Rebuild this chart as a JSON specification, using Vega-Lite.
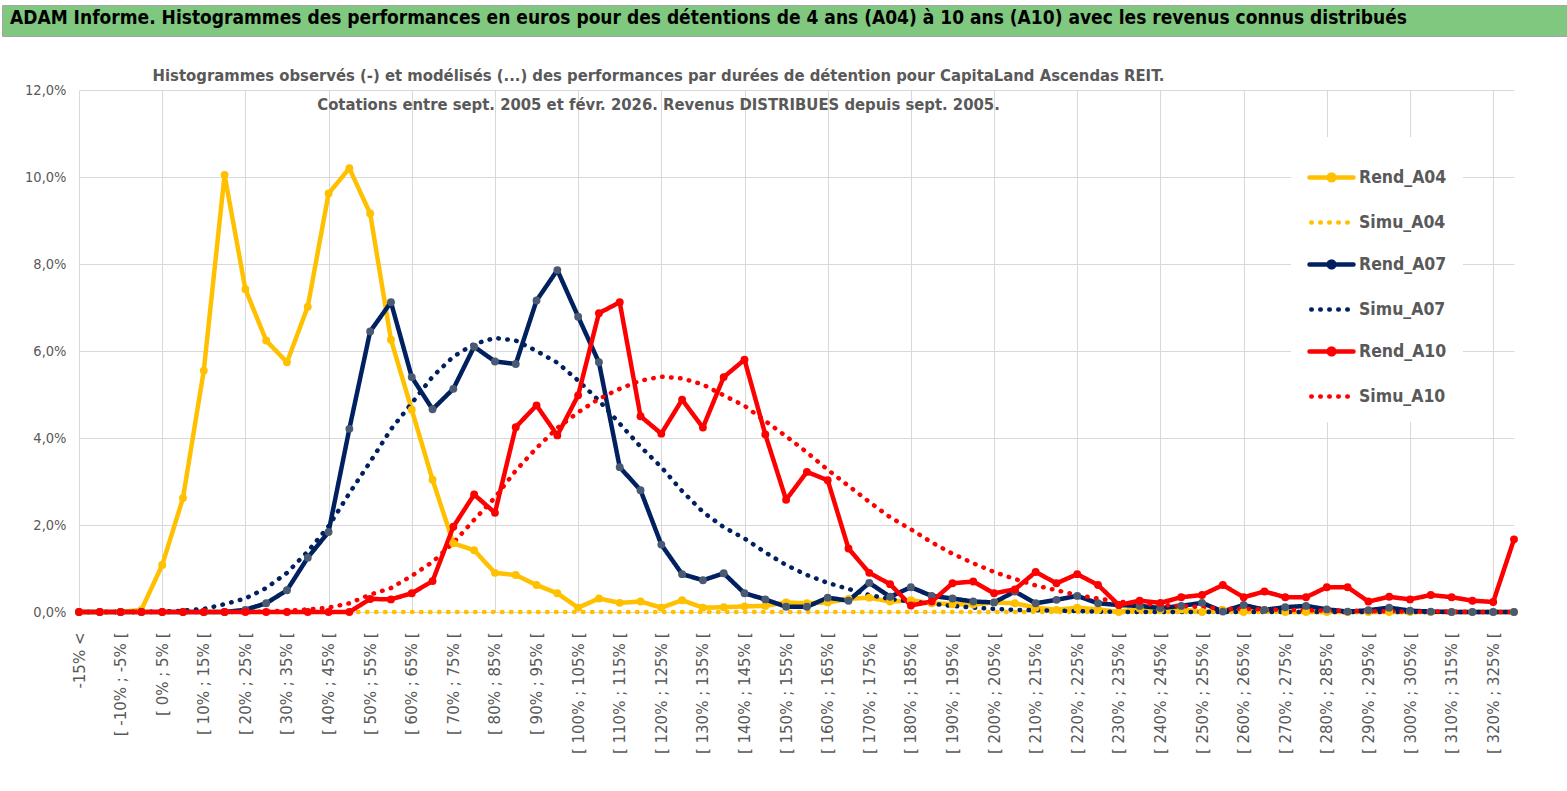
{
  "$schema": "https://vega.github.io/schema/vega-lite/v6.json",
  "autosize": {"type": "none"},
  "padding": {"left": 79, "top": 90, "right": 53, "bottom": 179},
  "width": 1435,
  "height": 522,
  "background": "white",
  "data": {
    "values": [
      {"c": "-15% <", "Rend_A04": 0, "Simu_A04": 0, "Rend_A07": 0, "Simu_A07": 0, "Rend_A10": 0, "Simu_A10": 0},
      {"c": "[ -15% ; -10% [", "Rend_A04": 0, "Simu_A04": 0, "Rend_A07": 0, "Simu_A07": 0, "Rend_A10": 0, "Simu_A10": 0},
      {"c": "[ -10% ; -5% [", "Rend_A04": 0, "Simu_A04": 0, "Rend_A07": 0, "Simu_A07": 0, "Rend_A10": 0, "Simu_A10": 0},
      {"c": "[ -5% ; 0% [", "Rend_A04": 0.05, "Simu_A04": 0, "Rend_A07": 0, "Simu_A07": 0, "Rend_A10": 0, "Simu_A10": 0},
      {"c": "[ 0% ; 5% [", "Rend_A04": 1.08, "Simu_A04": 0, "Rend_A07": 0, "Simu_A07": 0.01, "Rend_A10": 0, "Simu_A10": 0},
      {"c": "[ 5% ; 10% [", "Rend_A04": 2.62, "Simu_A04": 0, "Rend_A07": 0, "Simu_A07": 0.03, "Rend_A10": 0, "Simu_A10": 0},
      {"c": "[ 10% ; 15% [", "Rend_A04": 5.55, "Simu_A04": 0, "Rend_A07": 0, "Simu_A07": 0.07, "Rend_A10": 0, "Simu_A10": 0},
      {"c": "[ 15% ; 20% [", "Rend_A04": 10.05, "Simu_A04": 0, "Rend_A07": 0, "Simu_A07": 0.18, "Rend_A10": 0, "Simu_A10": 0},
      {"c": "[ 20% ; 25% [", "Rend_A04": 7.42, "Simu_A04": 0, "Rend_A07": 0.05, "Simu_A07": 0.31, "Rend_A10": 0, "Simu_A10": 0},
      {"c": "[ 25% ; 30% [", "Rend_A04": 6.24, "Simu_A04": 0, "Rend_A07": 0.2, "Simu_A07": 0.55, "Rend_A10": 0, "Simu_A10": 0.01},
      {"c": "[ 30% ; 35% [", "Rend_A04": 5.74, "Simu_A04": 0, "Rend_A07": 0.5, "Simu_A07": 0.9, "Rend_A10": 0, "Simu_A10": 0.03},
      {"c": "[ 35% ; 40% [", "Rend_A04": 7.02, "Simu_A04": 0, "Rend_A07": 1.25, "Simu_A07": 1.39, "Rend_A10": 0, "Simu_A10": 0.06},
      {"c": "[ 40% ; 45% [", "Rend_A04": 9.62, "Simu_A04": 0, "Rend_A07": 1.84, "Simu_A07": 1.97, "Rend_A10": 0, "Simu_A10": 0.1},
      {"c": "[ 45% ; 50% [", "Rend_A04": 10.2, "Simu_A04": 0, "Rend_A07": 4.21, "Simu_A07": 2.73, "Rend_A10": 0, "Simu_A10": 0.2},
      {"c": "[ 50% ; 55% [", "Rend_A04": 9.16, "Simu_A04": 0, "Rend_A07": 6.45, "Simu_A07": 3.45, "Rend_A10": 0.3, "Simu_A10": 0.4},
      {"c": "[ 55% ; 60% [", "Rend_A04": 6.26, "Simu_A04": 0, "Rend_A07": 7.12, "Simu_A07": 4.2, "Rend_A10": 0.29, "Simu_A10": 0.55},
      {"c": "[ 60% ; 65% [", "Rend_A04": 4.65, "Simu_A04": 0, "Rend_A07": 5.4, "Simu_A07": 4.8, "Rend_A10": 0.43, "Simu_A10": 0.83},
      {"c": "[ 65% ; 70% [", "Rend_A04": 3.04, "Simu_A04": 0, "Rend_A07": 4.66, "Simu_A07": 5.41, "Rend_A10": 0.71, "Simu_A10": 1.15},
      {"c": "[ 70% ; 75% [", "Rend_A04": 1.58, "Simu_A04": 0, "Rend_A07": 5.13, "Simu_A07": 5.87, "Rend_A10": 1.96, "Simu_A10": 1.59},
      {"c": "[ 75% ; 80% [", "Rend_A04": 1.42, "Simu_A04": 0, "Rend_A07": 6.1, "Simu_A07": 6.16, "Rend_A10": 2.7, "Simu_A10": 2.12},
      {"c": "[ 80% ; 85% [", "Rend_A04": 0.9, "Simu_A04": 0, "Rend_A07": 5.76, "Simu_A07": 6.3, "Rend_A10": 2.28, "Simu_A10": 2.63},
      {"c": "[ 85% ; 90% [", "Rend_A04": 0.85, "Simu_A04": 0, "Rend_A07": 5.7, "Simu_A07": 6.24, "Rend_A10": 4.25, "Simu_A10": 3.25},
      {"c": "[ 90% ; 95% [", "Rend_A04": 0.62, "Simu_A04": 0, "Rend_A07": 7.16, "Simu_A07": 6.0, "Rend_A10": 4.75, "Simu_A10": 3.77},
      {"c": "[ 95% ; 100% [", "Rend_A04": 0.43, "Simu_A04": 0, "Rend_A07": 7.86, "Simu_A07": 5.73, "Rend_A10": 4.06, "Simu_A10": 4.23},
      {"c": "[ 100% ; 105% [", "Rend_A04": 0.1, "Simu_A04": 0, "Rend_A07": 6.79, "Simu_A07": 5.32, "Rend_A10": 4.98, "Simu_A10": 4.59},
      {"c": "[ 105% ; 110% [", "Rend_A04": 0.31, "Simu_A04": 0, "Rend_A07": 5.74, "Simu_A07": 4.86, "Rend_A10": 6.87, "Simu_A10": 4.9},
      {"c": "[ 110% ; 115% [", "Rend_A04": 0.21, "Simu_A04": 0, "Rend_A07": 3.33, "Simu_A07": 4.33, "Rend_A10": 7.12, "Simu_A10": 5.13},
      {"c": "[ 115% ; 120% [", "Rend_A04": 0.24, "Simu_A04": 0, "Rend_A07": 2.8, "Simu_A07": 3.8, "Rend_A10": 4.5, "Simu_A10": 5.32},
      {"c": "[ 120% ; 125% [", "Rend_A04": 0.1, "Simu_A04": 0, "Rend_A07": 1.55, "Simu_A07": 3.33, "Rend_A10": 4.1, "Simu_A10": 5.41},
      {"c": "[ 125% ; 130% [", "Rend_A04": 0.27, "Simu_A04": 0, "Rend_A07": 0.87, "Simu_A07": 2.78, "Rend_A10": 4.88, "Simu_A10": 5.37},
      {"c": "[ 130% ; 135% [", "Rend_A04": 0.1, "Simu_A04": 0, "Rend_A07": 0.73, "Simu_A07": 2.3, "Rend_A10": 4.24, "Simu_A10": 5.23},
      {"c": "[ 135% ; 140% [", "Rend_A04": 0.11, "Simu_A04": 0, "Rend_A07": 0.89, "Simu_A07": 1.95, "Rend_A10": 5.4, "Simu_A10": 4.98},
      {"c": "[ 140% ; 145% [", "Rend_A04": 0.13, "Simu_A04": 0, "Rend_A07": 0.43, "Simu_A07": 1.69, "Rend_A10": 5.8, "Simu_A10": 4.74},
      {"c": "[ 145% ; 150% [", "Rend_A04": 0.14, "Simu_A04": 0, "Rend_A07": 0.29, "Simu_A07": 1.37, "Rend_A10": 4.08, "Simu_A10": 4.39},
      {"c": "[ 150% ; 155% [", "Rend_A04": 0.22, "Simu_A04": 0, "Rend_A07": 0.12, "Simu_A07": 1.08, "Rend_A10": 2.58, "Simu_A10": 4.04},
      {"c": "[ 155% ; 160% [", "Rend_A04": 0.2, "Simu_A04": 0, "Rend_A07": 0.12, "Simu_A07": 0.85, "Rend_A10": 3.22, "Simu_A10": 3.67},
      {"c": "[ 160% ; 165% [", "Rend_A04": 0.22, "Simu_A04": 0, "Rend_A07": 0.33, "Simu_A07": 0.67, "Rend_A10": 3.03, "Simu_A10": 3.27},
      {"c": "[ 165% ; 170% [", "Rend_A04": 0.3, "Simu_A04": 0, "Rend_A07": 0.26, "Simu_A07": 0.53, "Rend_A10": 1.46, "Simu_A10": 2.9},
      {"c": "[ 170% ; 175% [", "Rend_A04": 0.33, "Simu_A04": 0, "Rend_A07": 0.67, "Simu_A07": 0.39, "Rend_A10": 0.9, "Simu_A10": 2.53},
      {"c": "[ 175% ; 180% [", "Rend_A04": 0.24, "Simu_A04": 0, "Rend_A07": 0.35, "Simu_A07": 0.3, "Rend_A10": 0.64, "Simu_A10": 2.18},
      {"c": "[ 180% ; 185% [", "Rend_A04": 0.27, "Simu_A04": 0, "Rend_A07": 0.57, "Simu_A07": 0.24, "Rend_A10": 0.15, "Simu_A10": 1.9},
      {"c": "[ 185% ; 190% [", "Rend_A04": 0.2, "Simu_A04": 0, "Rend_A07": 0.37, "Simu_A07": 0.19, "Rend_A10": 0.24, "Simu_A10": 1.6},
      {"c": "[ 190% ; 195% [", "Rend_A04": 0.18, "Simu_A04": 0, "Rend_A07": 0.31, "Simu_A07": 0.14, "Rend_A10": 0.66, "Simu_A10": 1.34},
      {"c": "[ 195% ; 200% [", "Rend_A04": 0.17, "Simu_A04": 0, "Rend_A07": 0.24, "Simu_A07": 0.1, "Rend_A10": 0.7, "Simu_A10": 1.12},
      {"c": "[ 200% ; 205% [", "Rend_A04": 0.22, "Simu_A04": 0, "Rend_A07": 0.22, "Simu_A07": 0.07, "Rend_A10": 0.43, "Simu_A10": 0.92},
      {"c": "[ 205% ; 210% [", "Rend_A04": 0.2, "Simu_A04": 0, "Rend_A07": 0.47, "Simu_A07": 0.05, "Rend_A10": 0.52, "Simu_A10": 0.76},
      {"c": "[ 210% ; 215% [", "Rend_A04": 0.1, "Simu_A04": 0, "Rend_A07": 0.2, "Simu_A07": 0.04, "Rend_A10": 0.92, "Simu_A10": 0.61},
      {"c": "[ 215% ; 220% [", "Rend_A04": 0.05, "Simu_A04": 0, "Rend_A07": 0.28, "Simu_A07": 0.03, "Rend_A10": 0.66, "Simu_A10": 0.5},
      {"c": "[ 220% ; 225% [", "Rend_A04": 0.1, "Simu_A04": 0, "Rend_A07": 0.37, "Simu_A07": 0.02, "Rend_A10": 0.87, "Simu_A10": 0.39},
      {"c": "[ 225% ; 230% [", "Rend_A04": 0.06, "Simu_A04": 0, "Rend_A07": 0.2, "Simu_A07": 0.01, "Rend_A10": 0.62, "Simu_A10": 0.31},
      {"c": "[ 230% ; 235% [", "Rend_A04": 0, "Simu_A04": 0, "Rend_A07": 0.16, "Simu_A07": 0, "Rend_A10": 0.16, "Simu_A10": 0.24},
      {"c": "[ 235% ; 240% [", "Rend_A04": 0.08, "Simu_A04": 0, "Rend_A07": 0.14, "Simu_A07": 0, "Rend_A10": 0.26, "Simu_A10": 0.2},
      {"c": "[ 240% ; 245% [", "Rend_A04": 0.05, "Simu_A04": 0, "Rend_A07": 0.09, "Simu_A07": 0, "Rend_A10": 0.21, "Simu_A10": 0.16},
      {"c": "[ 245% ; 250% [", "Rend_A04": 0.06, "Simu_A04": 0, "Rend_A07": 0.14, "Simu_A07": 0, "Rend_A10": 0.34, "Simu_A10": 0.14},
      {"c": "[ 250% ; 255% [", "Rend_A04": 0, "Simu_A04": 0, "Rend_A07": 0.21, "Simu_A07": 0, "Rend_A10": 0.39, "Simu_A10": 0.11},
      {"c": "[ 255% ; 260% [", "Rend_A04": 0.05, "Simu_A04": 0, "Rend_A07": 0.01, "Simu_A07": 0, "Rend_A10": 0.62, "Simu_A10": 0.08},
      {"c": "[ 260% ; 265% [", "Rend_A04": 0, "Simu_A04": 0, "Rend_A07": 0.16, "Simu_A07": 0, "Rend_A10": 0.34, "Simu_A10": 0.07},
      {"c": "[ 265% ; 270% [", "Rend_A04": 0.05, "Simu_A04": 0, "Rend_A07": 0.05, "Simu_A07": 0, "Rend_A10": 0.47, "Simu_A10": 0.06},
      {"c": "[ 270% ; 275% [", "Rend_A04": 0, "Simu_A04": 0, "Rend_A07": 0.11, "Simu_A07": 0, "Rend_A10": 0.34, "Simu_A10": 0.05},
      {"c": "[ 275% ; 280% [", "Rend_A04": 0, "Simu_A04": 0, "Rend_A07": 0.14, "Simu_A07": 0, "Rend_A10": 0.34, "Simu_A10": 0.04},
      {"c": "[ 280% ; 285% [", "Rend_A04": 0, "Simu_A04": 0, "Rend_A07": 0.06, "Simu_A07": 0, "Rend_A10": 0.57, "Simu_A10": 0.03},
      {"c": "[ 285% ; 290% [", "Rend_A04": 0, "Simu_A04": 0, "Rend_A07": 0.01, "Simu_A07": 0, "Rend_A10": 0.57, "Simu_A10": 0.03},
      {"c": "[ 290% ; 295% [", "Rend_A04": 0, "Simu_A04": 0, "Rend_A07": 0.04, "Simu_A07": 0, "Rend_A10": 0.24, "Simu_A10": 0.02},
      {"c": "[ 295% ; 300% [", "Rend_A04": 0, "Simu_A04": 0, "Rend_A07": 0.1, "Simu_A07": 0, "Rend_A10": 0.35, "Simu_A10": 0.02},
      {"c": "[ 300% ; 305% [", "Rend_A04": 0, "Simu_A04": 0, "Rend_A07": 0.03, "Simu_A07": 0, "Rend_A10": 0.29, "Simu_A10": 0.01},
      {"c": "[ 305% ; 310% [", "Rend_A04": 0, "Simu_A04": 0, "Rend_A07": 0.01, "Simu_A07": 0, "Rend_A10": 0.39, "Simu_A10": 0.01},
      {"c": "[ 310% ; 315% [", "Rend_A04": 0, "Simu_A04": 0, "Rend_A07": 0, "Simu_A07": 0, "Rend_A10": 0.34, "Simu_A10": 0.01},
      {"c": "[ 315% ; 320% [", "Rend_A04": 0, "Simu_A04": 0, "Rend_A07": 0, "Simu_A07": 0, "Rend_A10": 0.26, "Simu_A10": 0},
      {"c": "[ 320% ; 325% [", "Rend_A04": 0, "Simu_A04": 0, "Rend_A07": 0, "Simu_A07": 0, "Rend_A10": 0.23, "Simu_A10": 0},
      {"c": "[ 325% ; 330% [", "Rend_A04": 0, "Simu_A04": 0, "Rend_A07": 0, "Simu_A07": 0, "Rend_A10": 1.67, "Simu_A10": 0}
    ]
  },
  "transform": [
    {"fold": ["Rend_A04", "Simu_A04", "Rend_A07", "Simu_A07", "Rend_A10", "Simu_A10"], "as": ["s", "v"]}
  ],
  "encoding": {
    "x": {
      "field": "c",
      "type": "ordinal",
      "sort": null,
      "scale": {"type": "point", "padding": 0},
      "axis": {
        "title": null,
        "values": ["-15% <", "[ -10% ; -5% [", "[ 0% ; 5% [", "[ 10% ; 15% [", "[ 20% ; 25% [", "[ 30% ; 35% [", "[ 40% ; 45% [", "[ 50% ; 55% [", "[ 60% ; 65% [", "[ 70% ; 75% [", "[ 80% ; 85% [", "[ 90% ; 95% [", "[ 100% ; 105% [", "[ 110% ; 115% [", "[ 120% ; 125% [", "[ 130% ; 135% [", "[ 140% ; 145% [", "[ 150% ; 155% [", "[ 160% ; 165% [", "[ 170% ; 175% [", "[ 180% ; 185% [", "[ 190% ; 195% [", "[ 200% ; 205% [", "[ 210% ; 215% [", "[ 220% ; 225% [", "[ 230% ; 235% [", "[ 240% ; 245% [", "[ 250% ; 255% [", "[ 260% ; 265% [", "[ 270% ; 275% [", "[ 280% ; 285% [", "[ 290% ; 295% [", "[ 300% ; 305% [", "[ 310% ; 315% [", "[ 320% ; 325% ["],
        "labelAngle": 270,
        "labelFont": "DejaVu Sans",
        "labelFontSize": 15,
        "labelColor": "#595959",
        "labelPadding": 20,
        "labelLimit": 300,
        "ticks": false,
        "domainColor": "#D9D9D9",
        "grid": true,
        "gridColor": "#D9D9D9",
        "gridOpacity": {"condition": {"test": "round(datum.index * 34) % 2 == 0", "value": 1}, "value": 0}
      }
    },
    "y": {
      "field": "v",
      "type": "quantitative",
      "scale": {"domain": [0, 12], "nice": false},
      "axis": {
        "title": [
          "Histogrammes observés (-) et modélisés (...) des performances par durées de détention pour CapitaLand Ascendas REIT.",
          "Cotations entre sept. 2005 et févr. 2026. Revenus DISTRIBUES depuis sept. 2005."
        ],
        "titleAngle": 0,
        "titleX": 579,
        "titleY": -15,
        "titleAlign": "center",
        "titleBaseline": "middle",
        "titleLineHeight": 29,
        "titleFont": "DejaVu Sans Condensed",
        "titleFontSize": 16.5,
        "titleFontWeight": "bold",
        "titleColor": "#595959",
        "titleLimit": 1400,
        "values": [0, 2, 4, 6, 8, 10, 12],
        "labelExpr": "replace(format(datum.value / 100, '.1%'), '.', ',')",
        "labelFont": "DejaVu Sans Condensed",
        "labelFontSize": 14.5,
        "labelColor": "#595959",
        "labelPadding": 13,
        "ticks": false,
        "domain": false,
        "gridColor": "#D9D9D9"
      }
    }
  },
  "layer": [
    {
      "mark": {"type": "line", "strokeWidth": 4.5, "strokeCap": "round", "strokeJoin": "round"},
      "encoding": {
        "color": {
          "field": "s",
          "type": "nominal",
          "scale": {
            "domain": ["Rend_A04", "Simu_A04", "Rend_A07", "Simu_A07", "Rend_A10", "Simu_A10"],
            "range": ["#FFC000", "#FFC000", "#002060", "#002060", "#FF0000", "#FF0000"]
          },
          "legend": {
            "title": null,
            "orient": "none",
            "legendX": 1212,
            "legendY": 47,
            "padding": 16,
            "fillColor": "white",
            "symbolSize": 1936,
            "symbolStrokeWidth": 4.5,
            "rowPadding": 8,
            "labelOffset": 3,
            "labelFont": "DejaVu Sans Condensed",
            "labelFontSize": 17.5,
            "labelFontWeight": "bold",
            "labelColor": "#595959",
            "encode": {
              "symbols": {
                "update": {
                  "shape": {"signal": "indexof(datum.value, 'Rend') == 0 ? 'M-1,0L1,0M-0.13,0A0.13,0.13 0 1,0 0.13,0A0.13,0.13 0 1,0 -0.13,0' : 'M-0.92,0L0.9,0'"},
                  "strokeDash": {"signal": "indexof(datum.value, 'Rend') == 0 ? [1, 0] : [0.5, 8.5]"},
                  "strokeCap": {"value": "round"},
                  "strokeWidth": {"value": 4.5},
                  "stroke": {"signal": "scale('color', datum.value)"},
                  "fill": {"signal": "datum.value == 'Rend_A07' ? '#4B5A73' : indexof(datum.value, 'Rend') == 0 ? scale('color', datum.value) : 'transparent'"},
                  "opacity": {"value": 1}
                }
              }
            }
          }
        },
        "strokeDash": {
          "field": "s",
          "type": "nominal",
          "scale": {
            "domain": ["Rend_A04", "Simu_A04", "Rend_A07", "Simu_A07", "Rend_A10", "Simu_A10"],
            "range": [[1, 0], [0.5, 8.5], [1, 0], [0.5, 8.5], [1, 0], [0.5, 8.5]]
          },
          "legend": null
        }
      }
    },
    {
      "transform": [{"filter": "indexof(datum.s, 'Rend') == 0"}],
      "mark": {"type": "point", "filled": true, "size": 62, "opacity": 1},
      "encoding": {
        "fill": {
          "field": "s",
          "type": "nominal",
          "scale": {"domain": ["Rend_A04", "Rend_A07", "Rend_A10"], "range": ["#FFC000", "#4B5A73", "#FF0000"]},
          "legend": {
            "title": "ADAM Informe. Histogrammes des performances en euros pour des détentions de 4 ans (A04) à 10 ans (A10) avec les revenus connus distribués",
            "orient": "none",
            "legendX": -77,
            "legendY": -85,
            "direction": "horizontal",
            "titleOrient": "left",
            "titleLimit": 3000,
            "titleFont": "DejaVu Sans Condensed",
            "titleFontSize": 19,
            "titleFontWeight": "bold",
            "titleColor": "#000000",
            "titlePadding": 136,
            "padding": 8,
            "fillColor": "#80C880",
            "strokeColor": "#A6A6A6",
            "symbolOpacity": 0,
            "symbolSize": 1,
            "labelExpr": "''",
            "labelOffset": 0,
            "columnPadding": 0
          }
        }
      }
    }
  ],
  "config": {
    "view": {"stroke": null}
  }
}
